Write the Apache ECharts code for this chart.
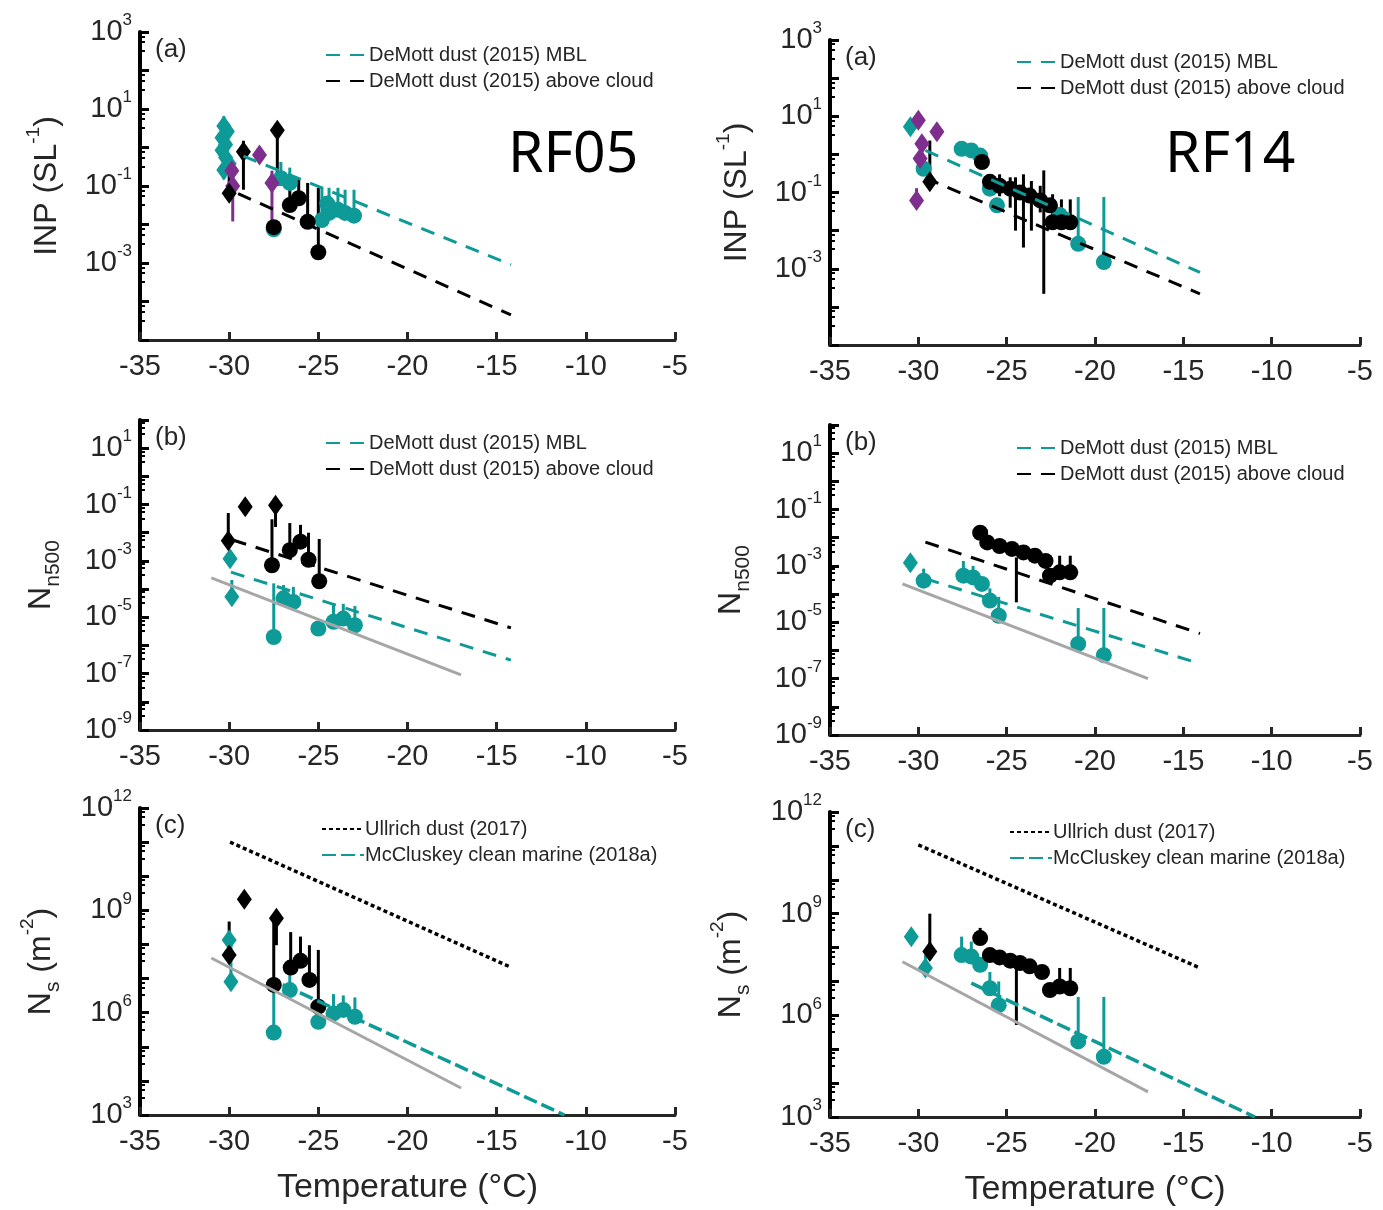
<!DOCTYPE html>
<html>
<head>
<meta charset="utf-8">
<script src="https://cdn.jsdelivr.net/npm/echarts@6/dist/echarts.min.js"></script>
<style>
  html, body { margin: 0; padding: 0; background: #fff; }
  #main { width: 1383px; height: 1210px; }
</style>
</head>
<body>
<div id="main"></div>
<script>
const TEAL = '#0e9a97';
const PURPLE = '#7e2f8e';
const GRAY = '#a6a6a6';
const INK = '#262626';
const FONT = '"Liberation Sans", Arial, sans-serif';

const MBL = 'DeMott dust (2015) MBL';
const ABOVE = 'DeMott dust (2015) above cloud';
const ULLRICH = 'Ullrich dust (2017)';
const MCCLUSKEY = 'McCluskey clean marine (2018a)';

const xTicks = [-35, -5, 5]; // min, max, step

// ---------------- RF05 ----------------
// (a) INP
const rf05A_tealDiamonds = [[-30.3, 3.6], [-30.1, 2.6], [-30.4, 1.8], [-30.2, 1.2], [-30.4, 0.85], [-30.2, 0.55], [-30.0, 0.38], [-30.3, 0.26]];
const rf05A_tealCircles = [[-27.5, 0.0075], [-27.1, 0.16], [-26.6, 0.12], [-24.8, 0.013], [-24.5, 0.035], [-24.4, 0.02], [-23.9, 0.024], [-23.5, 0.02], [-23.0, 0.017]];
const rf05A_tealBars = [[-30.3, 0.15, 6.5], [-27.1, 0.16, 0.42], [-26.6, 0.12, 0.3], [-24.8, 0.013, 0.09], [-24.4, 0.02, 0.09], [-23.9, 0.024, 0.09], [-23.5, 0.02, 0.08], [-23.0, 0.017, 0.08]];
const rf05A_purpleDiamonds = [[-29.85, 0.25], [-29.8, 0.1], [-28.3, 0.64], [-27.6, 0.12]];
const rf05A_purpleBars = [[-29.8, 0.012, 0.35], [-27.6, 0.009, 0.25]];
const rf05A_blackDiamonds = [[-30.0, 0.065], [-29.2, 0.77], [-27.3, 2.8]];
const rf05A_blackCircles = [[-27.5, 0.0085], [-26.6, 0.032], [-26.1, 0.048], [-25.6, 0.0117], [-25.0, 0.0019]];
const rf05A_blackBars = [[-30.0, 0.065, 0.4], [-29.2, 0.08, 1.5], [-27.3, 0.1, 2.8], [-26.6, 0.032, 0.2], [-26.1, 0.048, 0.16], [-25.6, 0.0117, 0.12], [-25.0, 0.0019, 0.09]];
const rf05A_mbl = [[-29.2, 0.6], [-14.2, 0.0009]];
const rf05A_above = [[-29.5, 0.063], [-14.2, 4.5e-5]];

// (b) Nn500
const rf05B_tealDiamonds = [[-29.95, 0.0012], [-29.85, 5.4e-5]];
const rf05B_tealCircles = [[-27.5, 2e-6], [-26.95, 4.7e-5], [-26.4, 3.5e-5], [-25.0, 4e-6], [-24.15, 6.9e-6], [-23.6, 9e-6], [-22.95, 5.2e-6]];
const rf05B_tealBars = [[-29.85, 5.4e-5, 2.1e-4], [-27.5, 2e-6, 1.6e-4], [-26.95, 4.7e-5, 1.4e-4], [-26.4, 3.5e-5, 1.2e-4], [-24.15, 6.9e-6, 3.2e-5], [-23.6, 9e-6, 3e-5], [-22.95, 5.2e-6, 2.5e-5]];
const rf05B_blackDiamonds = [[-30.05, 0.0052], [-29.1, 0.083], [-27.4, 0.095]];
const rf05B_blackCircles = [[-27.6, 7e-4], [-26.6, 0.0024], [-26.0, 0.0048], [-25.55, 0.0011], [-24.95, 1.9e-4]];
const rf05B_blackBars = [[-30.05, 0.0052, 0.05], [-27.4, 0.016, 0.095], [-27.6, 7e-4, 0.03], [-26.6, 0.0024, 0.022], [-26.0, 0.0048, 0.019], [-25.55, 0.0011, 0.01], [-24.95, 1.9e-4, 0.006]];
const rf05B_mbl = [[-29.9, 4e-4], [-14.2, 3e-7]];
const rf05B_above = [[-29.8, 5.5e-3], [-14.2, 4.2e-6]];
const rf05B_gray = [[-31.0, 2.5e-4], [-17.0, 9e-8]];

// (c) Ns
const rf05C_tealDiamonds = [[-30.0, 1.35e8], [-29.9, 8.1e6]];
const rf05C_tealCircles = [[-27.5, 2.6e5], [-26.6, 4.6e6], [-25.0, 5.4e5], [-24.15, 9.5e5], [-23.6, 1.2e6], [-22.95, 7.6e5]];
const rf05C_tealBars = [[-29.9, 8.1e6, 1.3e8], [-27.5, 2.6e5, 7.4e6], [-26.6, 4.6e6, 2.2e7], [-24.15, 9.5e5, 3.5e6], [-23.6, 1.2e6, 3.2e6], [-22.95, 7.6e5, 2.8e6]];
const rf05C_blackDiamonds = [[-30.0, 4.9e7], [-29.15, 2.1e9], [-27.35, 5.9e8]];
const rf05C_blackCircles = [[-27.5, 6.5e6], [-26.55, 2.1e7], [-26.0, 3.3e7], [-25.5, 9.1e6], [-25.0, 1.5e6]];
const rf05C_blackBars = [[-30.0, 4.9e7, 4.7e8], [-27.35, 9.5e7, 5.9e8], [-27.5, 6.5e6, 5e8], [-26.55, 2.1e7, 2.3e8], [-26.0, 3.3e7, 1.7e8], [-25.5, 9.1e6, 9.5e7], [-25.0, 1.5e6, 6.9e7]];
const rf05C_ullrich = [[-29.95, 1e11], [-14.25, 2.2e7]];
const rf05C_mccluskey = [[-27.0, 6.6e6], [-11.2, 1e3]];
const rf05C_gray = [[-31.0, 4e7], [-17.0, 6.2e3]];

// ---------------- RF14 ----------------
// (a) INP
const rf14A_tealDiamonds = [[-30.45, 5.3]];
const rf14A_tealCircles = [[-29.7, 0.42], [-27.55, 1.4], [-27.0, 1.27], [-26.5, 0.93], [-25.95, 0.126], [-25.55, 0.046], [-22.0, 0.026], [-20.95, 0.0045], [-19.5, 0.0015]];
const rf14A_tealBars = [[-25.95, 0.126, 0.3], [-20.95, 0.0045, 0.076], [-19.5, 0.0015, 0.076]];
const rf14A_purpleDiamonds = [[-30.0, 7.8], [-28.95, 3.9], [-29.8, 1.9], [-29.9, 0.78], [-30.1, 0.062]];
const rf14A_purpleBars = [[-30.1, 0.062, 0.13], [-29.8, 0.6, 1.9]];
const rf14A_blackDiamonds = [[-29.35, 0.19]];
const rf14A_blackCircles = [[-26.4, 0.63], [-25.95, 0.19], [-25.4, 0.15], [-24.8, 0.126], [-24.25, 0.1], [-23.7, 0.083], [-23.1, 0.062], [-22.55, 0.046], [-22.4, 0.0166], [-21.9, 0.0166], [-21.4, 0.0166]];
const rf14A_blackBars = [[-29.35, 0.19, 2.3], [-25.4, 0.08, 0.3], [-24.8, 0.04, 0.25], [-24.5, 0.01, 0.25], [-24.05, 0.0036, 0.3], [-23.6, 0.01, 0.2], [-23.1, 0.03, 0.15], [-22.9, 2.2e-4, 0.38], [-22.4, 0.0166, 0.09], [-21.9, 0.0166, 0.066], [-21.4, 0.0166, 0.066]];
const rf14A_mbl = [[-29.6, 1.27], [-14.06, 8e-4]];
const rf14A_above = [[-29.6, 0.24], [-14.06, 2.2e-4]];

// (b) Nn500
const rf14B_tealDiamonds = [[-30.45, 1.3e-3]];
const rf14B_tealCircles = [[-29.7, 3e-4], [-27.45, 4.5e-4], [-26.9, 3.9e-4], [-26.4, 2.3e-4], [-25.95, 5.9e-5], [-25.45, 1.7e-5], [-20.95, 1.7e-6], [-19.5, 6.8e-7]];
const rf14B_tealBars = [[-29.7, 3e-4, 8e-4], [-27.45, 4.5e-4, 1.5e-3], [-26.9, 3.9e-4, 1e-3], [-25.95, 5.9e-5, 1.6e-4], [-25.45, 1.7e-5, 8e-5], [-20.95, 1.7e-6, 3.2e-5], [-19.5, 6.8e-7, 3.2e-5]];
const rf14B_blackCircles = [[-26.5, 0.015], [-26.1, 6.8e-3], [-25.4, 5.1e-3], [-24.7, 4e-3], [-24.05, 3e-3], [-23.4, 2.3e-3], [-22.8, 1.5e-3], [-22.55, 4.5e-4], [-22.0, 5.9e-4], [-21.4, 5.9e-4]];
const rf14B_blackBars = [[-26.5, 0.015, 0.02], [-24.45, 5.1e-5, 2e-3], [-22.0, 5.9e-4, 2.3e-3], [-21.4, 5.9e-4, 2.3e-3]];
const rf14B_mbl = [[-29.6, 3.5e-4], [-14.06, 3.4e-7]];
const rf14B_above = [[-29.6, 7e-3], [-14.06, 4e-6]];
const rf14B_gray = [[-30.9, 2.3e-4], [-17.0, 1e-7]];

// (c) Ns
const rf14C_tealDiamonds = [[-30.4, 2.1e8], [-29.6, 2.5e7]];
const rf14C_tealCircles = [[-27.55, 6e7], [-27.0, 5.4e7], [-26.5, 3.1e7], [-25.95, 6.3e6], [-25.45, 2e6], [-20.95, 1.7e5], [-19.5, 6e4]];
const rf14C_tealBars = [[-29.6, 2.5e7, 6e7], [-27.55, 6e7, 2.1e8], [-27.0, 5.4e7, 1.5e8], [-25.95, 6.3e6, 1.9e7], [-25.45, 2e6, 1e7], [-20.95, 1.7e5, 3.5e6], [-19.5, 6e4, 3.5e6]];
const rf14C_blackDiamonds = [[-29.35, 7.6e7]];
const rf14C_blackCircles = [[-26.5, 1.9e8], [-25.95, 6e7], [-25.4, 5.1e7], [-24.8, 4.1e7], [-24.25, 3.5e7], [-23.7, 2.8e7], [-23.0, 1.9e7], [-22.55, 5.6e6], [-22.0, 7.1e6], [-21.4, 6.3e6]];
const rf14C_blackBars = [[-29.35, 7.6e7, 1e9], [-26.5, 1.9e8, 3.8e8], [-24.45, 5.2e5, 3e7], [-22.0, 7.1e6, 2.5e7], [-21.4, 6.3e6, 2.5e7]];
const rf14C_ullrich = [[-30.0, 1.07e11], [-14.06, 2.5e7]];
const rf14C_mccluskey = [[-27.0, 8.9e6], [-10.95, 1e3]];
const rf14C_gray = [[-30.9, 3.8e7], [-17.0, 5.5e3]];

// ---------------- helpers ----------------
function markers(i, data, color, shape) {
  return {
    type: 'scatter', xAxisIndex: i, yAxisIndex: i, data: data,
    symbol: shape, symbolSize: shape === 'diamond' ? [15, 21] : 16,
    itemStyle: { color: color, opacity: 1 }, silent: true
  };
}

function errBars(i, data, color) {
  return {
    type: 'custom', xAxisIndex: i, yAxisIndex: i, data: data,
    encode: { x: 0, y: [1, 2] }, silent: true,
    renderItem: function (params, api) {
      const lo = api.coord([api.value(0), api.value(1)]);
      const hi = api.coord([api.value(0), api.value(2)]);
      return {
        type: 'line',
        shape: { x1: lo[0], y1: lo[1], x2: hi[0], y2: hi[1] },
        style: { stroke: color, lineWidth: 3 }
      };
    }
  };
}

function paramLine(i, name, data, color, dash, width) {
  return {
    type: 'line', name: name, xAxisIndex: i, yAxisIndex: i, data: data,
    symbol: 'none', silent: true,
    lineStyle: { color: color, width: width, type: dash },
    itemStyle: { color: color }
  };
}

const tickRich = {
  b: { fontSize: 29, lineHeight: 40, verticalAlign: 'middle', color: INK, fontFamily: FONT },
  s: { fontSize: 17, lineHeight: 16, verticalAlign: 'top', color: INK, fontFamily: FONT }
};
const nameRich = {
  t: { fontSize: 32, lineHeight: 46, verticalAlign: 'middle', color: INK, fontFamily: FONT },
  s: { fontSize: 19, lineHeight: 20, verticalAlign: 'top', color: INK, fontFamily: FONT },
  u: { fontSize: 21, lineHeight: 20, verticalAlign: 'bottom', color: INK, fontFamily: FONT }
};

// grid boxes: left, top, width, height
const boxes = [
  [140, 32, 535, 308], [140, 420, 535, 310], [140, 808, 535, 307],
  [830, 40, 530, 305], [830, 425, 530, 310], [830, 812, 530, 305]
];
const yRanges = [
  [1e-5, 1e3, 2], [1e-9, 1e2, 2], [1e3, 1e12, 3],
  [1e-5, 1e3, 2], [1e-9, 1e2, 2], [1e3, 1e12, 3]
];
const yNames = [
  '{t|INP (SL}{s|-1}{t|)}', '{t|N}{u|n500}', '{t|N}{u|s}{t| (m}{s|-2}{t|)}',
  '{t|INP (SL}{s|-1}{t|)}', '{t|N}{u|n500}', '{t|N}{u|s}{t| (m}{s|-2}{t|)}'
];
const panelTags = ['(a)', '(b)', '(c)', '(a)', '(b)', '(c)'];

const grids = [], xAxes = [], yAxes = [], titles = [];
boxes.forEach(function (b, i) {
  grids.push({ left: b[0], top: b[1], width: b[2], height: b[3], containLabel: false });
  const bottomRow = i === 2 || i === 5;
  xAxes.push({
    type: 'value', gridIndex: i, min: xTicks[0], max: xTicks[1], interval: xTicks[2],
    axisLine: { show: true, onZero: false, lineStyle: { color: INK, width: 3 } },
    axisTick: { show: true, inside: true, length: 8, lineStyle: { color: INK, width: 3 } },
    axisLabel: { fontSize: 29, color: INK, fontFamily: FONT, margin: 12 },
    splitLine: { show: false },
    name: bottomRow ? 'Temperature (°C)' : '',
    nameLocation: 'middle', nameGap: 56,
    nameTextStyle: { fontSize: 34, color: INK, fontFamily: FONT }
  });
  const r = yRanges[i];
  yAxes.push({
    type: 'log', logBase: 10, gridIndex: i, min: r[0], max: r[1], interval: 1,
    axisLine: { show: true, lineStyle: { color: '#000', width: 4 } },
    axisTick: { show: true, inside: true, length: 9, lineStyle: { color: '#000', width: 3 } },
    minorTick: { show: true, splitNumber: 4, length: 5, lineStyle: { color: '#000', width: 2 } },
    axisLabel: {
      margin: 8,
      formatter: function (v) {
        const e = Math.round(Math.log10(v));
        const lowA = (i === 0 || i === 3) && e === -5;
        if (e % r[2] !== 0 && r[2] === 3) return '';
        if (r[2] === 2 && (Math.abs(e) % 2 !== 1 || lowA)) return '';
        return '{b|10}{s|' + e + '}';
      },
      rich: tickRich
    },
    splitLine: { show: false },
    name: yNames[i], nameLocation: 'middle', nameRotate: 90,
    nameGap: (i % 3 === 0) ? 70 : 76,
    nameTextStyle: { rich: nameRich }
  });
  titles.push({
    text: panelTags[i], left: b[0] + 10, top: b[1],
    textStyle: { fontSize: 26, fontWeight: 'normal', color: INK, fontFamily: FONT }
  });
});
titles.push({ text: 'RF05', left: 503, top: 122, textStyle: { fontSize: 57, fontWeight: 'normal', color: '#000', fontFamily: '"Noto Sans", sans-serif' } });
titles.push({ text: 'RF14', left: 1160, top: 122, textStyle: { fontSize: 57, fontWeight: 'normal', color: '#000', fontFamily: '"Noto Sans", sans-serif' } });

const DASH = [14, 10];
const series = [
  // RF05 (a)
  paramLine(0, MBL, rf05A_mbl, TEAL, DASH, 3),
  paramLine(0, ABOVE, rf05A_above, '#000', DASH, 3),
  errBars(0, rf05A_tealBars, TEAL),
  markers(0, rf05A_tealDiamonds, TEAL, 'diamond'),
  markers(0, rf05A_tealCircles, TEAL, 'circle'),
  errBars(0, rf05A_purpleBars, PURPLE),
  markers(0, rf05A_purpleDiamonds, PURPLE, 'diamond'),
  errBars(0, rf05A_blackBars, '#000'),
  markers(0, rf05A_blackDiamonds, '#000', 'diamond'),
  markers(0, rf05A_blackCircles, '#000', 'circle'),
  // RF05 (b)
  paramLine(1, 'gray-b1', rf05B_gray, GRAY, 'solid', 3),
  paramLine(1, MBL, rf05B_mbl, TEAL, DASH, 3),
  paramLine(1, ABOVE, rf05B_above, '#000', DASH, 3),
  errBars(1, rf05B_tealBars, TEAL),
  markers(1, rf05B_tealDiamonds, TEAL, 'diamond'),
  markers(1, rf05B_tealCircles, TEAL, 'circle'),
  errBars(1, rf05B_blackBars, '#000'),
  markers(1, rf05B_blackDiamonds, '#000', 'diamond'),
  markers(1, rf05B_blackCircles, '#000', 'circle'),
  // RF05 (c)
  paramLine(2, 'gray-c1', rf05C_gray, GRAY, 'solid', 3),
  paramLine(2, ULLRICH, rf05C_ullrich, '#000', [4, 3], 3.5),
  paramLine(2, MCCLUSKEY, rf05C_mccluskey, TEAL, [14, 5], 3.5),
  errBars(2, rf05C_tealBars, TEAL),
  markers(2, rf05C_tealDiamonds, TEAL, 'diamond'),
  markers(2, rf05C_tealCircles, TEAL, 'circle'),
  errBars(2, rf05C_blackBars, '#000'),
  markers(2, rf05C_blackDiamonds, '#000', 'diamond'),
  markers(2, rf05C_blackCircles, '#000', 'circle'),
  // RF14 (a)
  paramLine(3, MBL, rf14A_mbl, TEAL, DASH, 3),
  paramLine(3, ABOVE, rf14A_above, '#000', DASH, 3),
  errBars(3, rf14A_tealBars, TEAL),
  markers(3, rf14A_tealDiamonds, TEAL, 'diamond'),
  markers(3, rf14A_tealCircles, TEAL, 'circle'),
  errBars(3, rf14A_purpleBars, PURPLE),
  markers(3, rf14A_purpleDiamonds, PURPLE, 'diamond'),
  errBars(3, rf14A_blackBars, '#000'),
  markers(3, rf14A_blackDiamonds, '#000', 'diamond'),
  markers(3, rf14A_blackCircles, '#000', 'circle'),
  // RF14 (b)
  paramLine(4, 'gray-b2', rf14B_gray, GRAY, 'solid', 3),
  paramLine(4, MBL, rf14B_mbl, TEAL, DASH, 3),
  paramLine(4, ABOVE, rf14B_above, '#000', DASH, 3),
  errBars(4, rf14B_tealBars, TEAL),
  markers(4, rf14B_tealDiamonds, TEAL, 'diamond'),
  markers(4, rf14B_tealCircles, TEAL, 'circle'),
  errBars(4, rf14B_blackBars, '#000'),
  markers(4, rf14B_blackCircles, '#000', 'circle'),
  // RF14 (c)
  paramLine(5, 'gray-c2', rf14C_gray, GRAY, 'solid', 3),
  paramLine(5, ULLRICH, rf14C_ullrich, '#000', [4, 3], 3.5),
  paramLine(5, MCCLUSKEY, rf14C_mccluskey, TEAL, [14, 5], 3.5),
  errBars(5, rf14C_tealBars, TEAL),
  markers(5, rf14C_tealDiamonds, TEAL, 'diamond'),
  markers(5, rf14C_tealCircles, TEAL, 'circle'),
  errBars(5, rf14C_blackBars, '#000'),
  markers(5, rf14C_blackDiamonds, '#000', 'diamond'),
  markers(5, rf14C_blackCircles, '#000', 'circle')
];

function legendAt(names, left, top) {
  return {
    data: names, left: left, top: top, orient: 'vertical',
    itemWidth: 42, itemHeight: 14, itemGap: 6, selectedMode: false,
    itemStyle: { opacity: 0 },
    textStyle: { fontSize: 20, lineHeight: 20, color: INK, fontFamily: FONT, padding: [0, 0, 0, -4] }
  };
}

const chart = echarts.init(document.getElementById('main'));
chart.setOption({
  animation: false,
  backgroundColor: '#fff',
  title: titles,
  legend: [
    legendAt([MBL, ABOVE], 320, 40),
    legendAt([MBL, ABOVE], 1011, 47),
    legendAt([MBL, ABOVE], 320, 428),
    legendAt([MBL, ABOVE], 1011, 433),
    legendAt([ULLRICH, MCCLUSKEY], 316, 814),
    legendAt([ULLRICH, MCCLUSKEY], 1004, 817)
  ],
  grid: grids,
  xAxis: xAxes,
  yAxis: yAxes,
  series: series
});
</script>
</body>
</html>
